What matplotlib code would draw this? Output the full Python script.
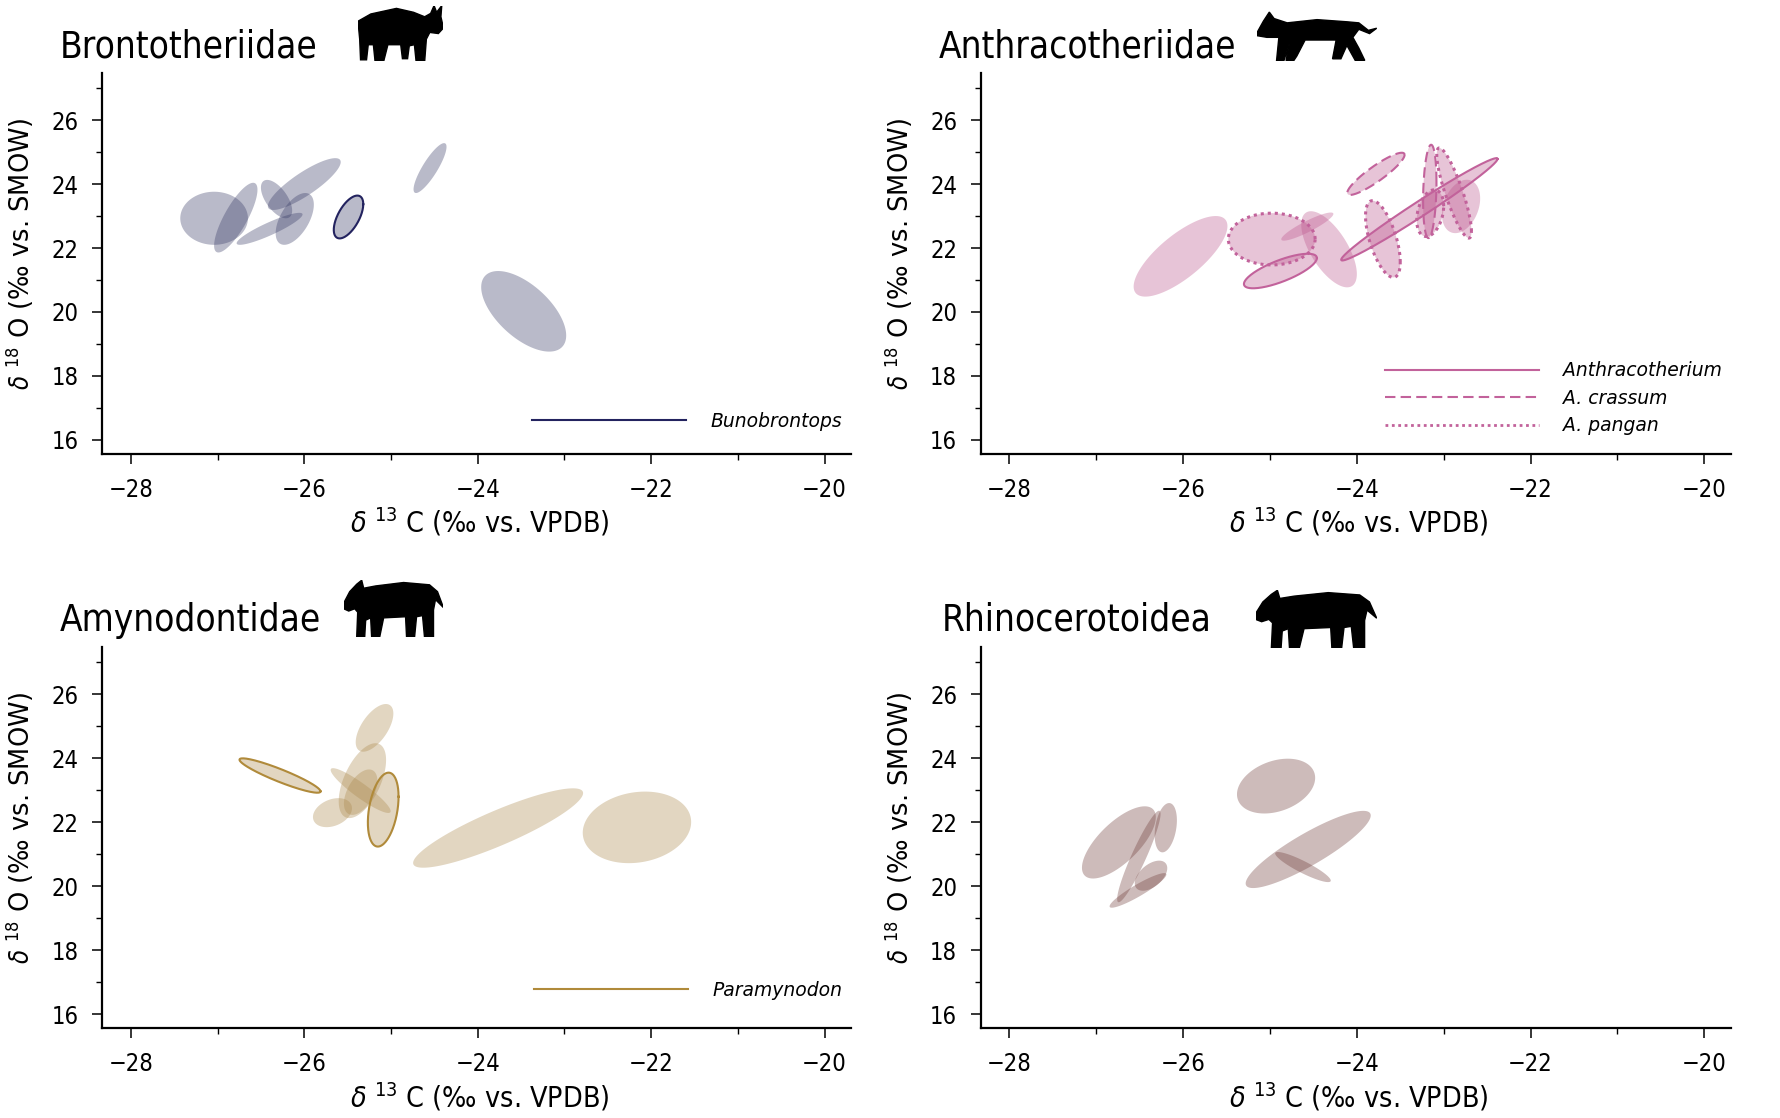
import numpy as np
import matplotlib
matplotlib.use('Agg')
import matplotlib.pyplot as plt
from matplotlib import font_manager
from matplotlib.lines import Line2D
from matplotlib.patches import Polygon

# pick a narrow sans for ticks/titles if one is installed
ttf = font_manager.fontManager.ttflist
names = {f.name for f in ttf}
narrow = {'family': ['DejaVu Sans'], 'stretch': 'normal'}
if 'Liberation Sans Narrow' in names:
    narrow = {'family': ['Liberation Sans Narrow', 'DejaVu Sans'], 'stretch': 'normal'}
elif any(f.name == 'DejaVu Sans' and f.stretch == 'condensed' for f in ttf):
    narrow = {'family': ['DejaVu Sans'], 'stretch': 'condensed'}
plt.rcParams['font.family'] = narrow['family']
plt.rcParams['font.stretch'] = narrow['stretch']
plt.rcParams['mathtext.fontset'] = 'dejavusans'

# ---- data: standard ellipses (mean, sd, correlation) ----
bronto_cx = [-27.04, -26.79, -26.40, -26.32, -26.00, -26.11, -25.49, -24.55, -23.47]
bronto_cy = [22.93, 22.95, 22.60, 23.53, 24.00, 22.91, 22.97, 24.50, 20.02]
bronto_sx = [0.39, 0.25, 0.38, 0.18, 0.42, 0.22, 0.17, 0.19, 0.49]
bronto_sy = [0.83, 1.09, 0.50, 0.60, 0.81, 0.81, 0.67, 0.78, 1.26]
bronto_rho = [0.0, 0.8, 0.9, -0.6, 0.85, 0.55, 0.6, 0.85, -0.6]
bronto_taxon = [None, None, None, None, None, None, 'Bunobrontops', None, None]

anthra_cx = [-26.03, -24.98, -24.57, -24.32, -24.88, -23.28, -23.70, -23.78, -23.16, -22.88, -23.155, -22.80]
anthra_cy = [21.74, 22.28, 22.67, 21.96, 21.28, 23.21, 22.28, 24.32, 23.77, 23.72, 23.09, 23.30]
anthra_sx = [0.54, 0.50, 0.30, 0.32, 0.42, 0.90, 0.20, 0.33, 0.077, 0.20, 0.155, 0.22]
anthra_sy = [1.26, 0.81, 0.44, 1.19, 0.54, 1.60, 1.20, 0.66, 1.46, 1.41, 0.73, 0.835]
anthra_rho = [0.75, 0.0, 0.9, -0.65, 0.75, 0.985, -0.6, 0.9, 0.2, -0.85, 0.3, 0.3]
anthra_taxon = [None, 'A. pangan', None, None, 'Anthracotherium', 'Anthracotherium',
                'A. pangan', 'A. crassum', 'A. crassum', 'A. pangan', 'A. pangan', None]

amyno_cx = [-26.28, -25.19, -25.33, -25.35, -25.675, -25.35, -25.09, -23.765, -22.164]
amyno_cy = [23.46, 24.95, 23.30, 22.99, 22.30, 22.94, 22.395, 21.82, 21.84]
amyno_sx = [0.467, 0.217, 0.273, 0.346, 0.225, 0.193, 0.177, 0.98, 0.625]
amyno_sy = [0.537, 0.745, 1.17, 0.70, 0.453, 0.71, 1.155, 1.24, 1.118]
amyno_rho = [-0.92, 0.6, 0.55, -0.92, 0.3, 0.5, 0.35, 0.88, 0.15]
amyno_taxon = ['Paramynodon', None, None, None, None, None, 'Paramynodon', None, None]

rhino_cx = [-26.74, -26.51, -26.20, -26.37, -26.52, -24.93, -24.56, -24.62]
rhino_cy = [21.37, 20.93, 21.83, 20.33, 19.87, 23.13, 21.15, 20.60]
rhino_sx = [0.425, 0.25, 0.128, 0.187, 0.327, 0.45, 0.72, 0.32]
rhino_sy = [1.128, 1.43, 0.77, 0.47, 0.54, 0.856, 1.206, 0.47]
rhino_rho = [0.7, 0.93, 0.3, 0.5, 0.92, 0.3, 0.88, -0.9]
rhino_taxon = [None] * 8

titles = ['Brontotheriidae', 'Anthracotheriidae', 'Amynodontidae', 'Rhinocerotoidea']
x_ticks = [-28, -26, -24, -22, -20]
y_ticks = [16, 18, 20, 22, 24, 26]

# ---- styling ----
fills = ['#373a65', '#bd568d', '#ac8a4e', '#703d3a']
edges = ['#23235f', '#c2629b', '#b08a3a', '#703d3a']
styles = {'Bunobrontops': '-', 'Paramynodon': '-', 'Anthracotherium': '-',
          'A. crassum': (0, (5, 2.5)), 'A. pangan': (0, (1, 1.3))}
legends = [['Bunobrontops'], ['Anthracotherium', 'A. crassum', 'A. pangan'], ['Paramynodon'], []]
legend_y = [0.017, 0.005, 0.03, 0.0]

positions = [[0.0574, 0.594, 0.4207, 0.3406],
             [0.5507, 0.594, 0.4213, 0.3406],
             [0.0574, 0.0802, 0.4207, 0.3409],
             [0.5507, 0.0802, 0.4213, 0.3409]]
title_pos = [(0.0335, 0.958), (0.527, 0.958), (0.0335, 0.445), (0.529, 0.445)]
icon_pos = [[0.201, 0.945, 0.048, 0.05], [0.706, 0.945, 0.067, 0.048],
            [0.193, 0.43, 0.056, 0.051], [0.705, 0.42, 0.068, 0.052]]

# rough silhouettes in a unit box
bronto_icon = [(0.0, 0.72), (0.15, 0.85), (0.45, 0.95), (0.65, 0.88), (0.78, 0.80), (0.85, 0.86),
               (0.89, 1.0), (0.92, 0.88), (0.98, 1.0), (0.97, 0.8), (1.0, 0.6), (0.94, 0.5),
               (0.84, 0.52), (0.8, 0.4), (0.78, 0.0), (0.68, 0.0), (0.66, 0.3), (0.6, 0.28),
               (0.58, 0.05), (0.52, 0.05), (0.5, 0.3), (0.35, 0.3), (0.3, 0.0), (0.2, 0.0),
               (0.18, 0.3), (0.12, 0.3), (0.1, 0.03), (0.03, 0.03), (0.02, 0.4)]
anthra_icon = [(0.0, 0.55), (0.05, 0.75), (0.1, 0.92), (0.14, 0.8), (0.25, 0.72), (0.5, 0.78),
               (0.75, 0.74), (0.85, 0.72), (0.93, 0.58), (1.0, 0.62), (0.94, 0.52), (0.85, 0.6),
               (0.8, 0.45), (0.85, 0.25), (0.9, 0.02), (0.82, 0.02), (0.75, 0.3), (0.7, 0.05),
               (0.63, 0.05), (0.66, 0.4), (0.4, 0.4), (0.33, 0.1), (0.3, 0.0), (0.24, 0.02),
               (0.27, 0.35), (0.22, 0.0), (0.16, 0.0), (0.18, 0.45), (0.08, 0.45), (0.0, 0.48)]
generic_icon = [(0.0, 0.60), (0.06, 0.80), (0.13, 0.93), (0.18, 1.0), (0.2, 0.86), (0.32, 0.90),
                (0.6, 0.96), (0.86, 0.92), (0.94, 0.8), (1.0, 0.52), (0.92, 0.66), (0.9, 0.48),
                (0.9, 0.0), (0.81, 0.0), (0.79, 0.38), (0.73, 0.36), (0.71, 0.0), (0.63, 0.0),
                (0.62, 0.36), (0.40, 0.34), (0.36, 0.0), (0.28, 0.0), (0.27, 0.34), (0.22, 0.30),
                (0.21, 0.0), (0.13, 0.0), (0.14, 0.44), (0.11, 0.50), (0.05, 0.46), (0.0, 0.50)]
icons = [bronto_icon, anthra_icon, generic_icon, generic_icon]

panels = [(bronto_cx, bronto_cy, bronto_sx, bronto_sy, bronto_rho, bronto_taxon),
          (anthra_cx, anthra_cy, anthra_sx, anthra_sy, anthra_rho, anthra_taxon),
          (amyno_cx, amyno_cy, amyno_sx, amyno_sy, amyno_rho, amyno_taxon),
          (rhino_cx, rhino_cy, rhino_sx, rhino_sy, rhino_rho, rhino_taxon)]


def ellipse_xy(cx, cy, sx, sy, r, n=240):
    cov = np.array([[sx * sx, r * sx * sy], [r * sx * sy, sy * sy]])
    L = np.linalg.cholesky(cov)
    t = np.linspace(0, 2 * np.pi, n)
    pts = L @ np.vstack([np.cos(t), np.sin(t)])
    return cx + pts[0], cy + pts[1]


fig = plt.figure(figsize=(17.81, 11.18), dpi=100)

for i, (cx, cy, sx, sy, rho, taxon) in enumerate(panels):
    ax = fig.add_axes(positions[i])
    for j in range(len(cx)):
        ex, ey = ellipse_xy(cx[j], cy[j], sx[j], sy[j], rho[j])
        ax.fill(ex, ey, color=fills[i], alpha=0.35, lw=0)
        if taxon[j] is not None:
            lw = 2.2 if taxon[j] == 'A. pangan' else 1.5
            ax.plot(ex, ey, color=edges[i], lw=lw, ls=styles[taxon[j]])

    ax.set_xlim(-28.33, -19.69)
    ax.set_ylim(15.56, 27.47)
    ax.set_xticks(x_ticks)
    ax.set_yticks(y_ticks)
    ax.set_xticks(np.arange(-27, -19, 2), minor=True)
    ax.set_yticks(np.arange(17, 28, 2), minor=True)
    ax.set_xticklabels(['\u2212' + str(abs(v)) for v in x_ticks])
    ax.tick_params(which='major', length=7, width=1.1, labelsize=17, pad=10)
    ax.tick_params(which='minor', length=4, width=1.0)
    for s in ['top', 'right']:
        ax.spines[s].set_visible(False)
    for s in ['left', 'bottom']:
        ax.spines[s].set_linewidth(1.6)

    ax.set_xlabel(r'$\delta$ $^{13}$ C (‰ vs. VPDB)', fontsize=20.5)
    ax.xaxis.label.set_va('center')
    ax.xaxis.set_label_coords(0.504, -0.18)
    ax.set_ylabel(r'$\delta$ $^{18}$ O (‰ vs. SMOW)', fontsize=18.5,
                  family='DejaVu Sans', stretch='normal')
    ax.yaxis.label.set_va('center')
    ax.yaxis.set_label_coords(-0.11, 0.527)

    if legends[i]:
        handles = [Line2D([], [], color=edges[i], lw=2.0 if t == 'A. pangan' else 1.5, ls=styles[t])
                   for t in legends[i]]
        ax.legend(handles, legends[i], loc='lower right', bbox_to_anchor=(1.01, legend_y[i]),
                  frameon=False, handlelength=8.2, handletextpad=1.3, labelspacing=0.45,
                  prop={'family': 'DejaVu Sans', 'style': 'italic', 'size': 13.5,
                        'stretch': 'normal'})

    fig.text(title_pos[i][0], title_pos[i][1], titles[i], fontsize=26.5, va='center', ha='left')

    iax = fig.add_axes(icon_pos[i])
    iax.add_patch(Polygon(np.array(icons[i]), closed=True, color='black'))
    iax.set_xlim(0, 1)
    iax.set_ylim(0, 1)
    iax.axis('off')

fig.savefig('out.png', dpi=100)
